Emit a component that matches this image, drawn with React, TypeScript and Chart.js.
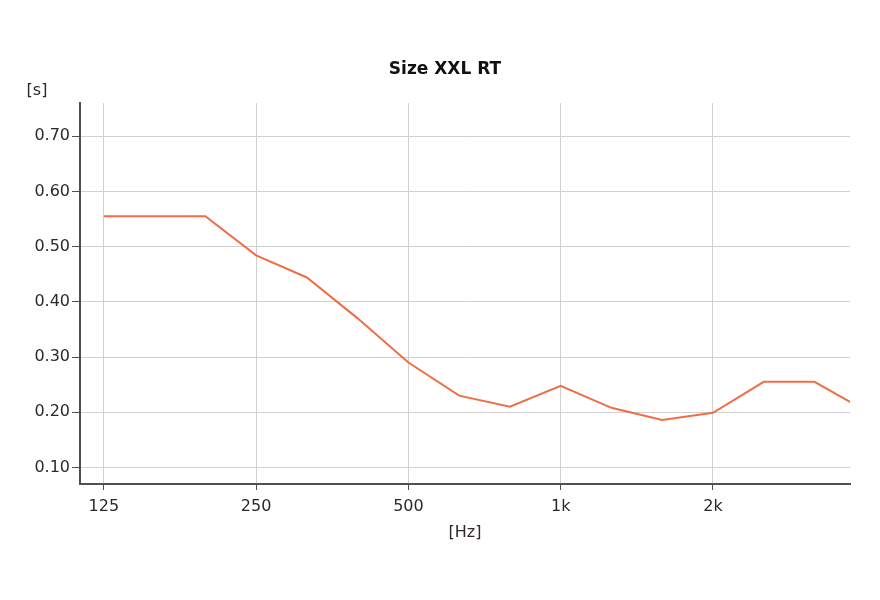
import React, { useEffect, useRef } from "react";
import { Chart, registerables } from "chart.js";

Chart.register(...registerables);

const bands = ["125", "160", "200", "250", "315", "400", "500", "630", "800", "1k", "1.25k", "1.6k", "2k", "2.5k", "3.15k", "4k"];
const rtValues = [0.555, 0.555, 0.555, 0.484, 0.444, 0.37, 0.29, 0.23, 0.21, 0.248, 0.208, 0.186, 0.199, 0.255, 0.255, 0.203];
const xTickLabels = ["125", "250", "500", "1k", "2k"];
const yTicks = [0.1, 0.2, 0.3, 0.4, 0.5, 0.6, 0.7];
const chartTitle = "Size XXL RT";
const yUnit = "[s]";
const xUnit = "[Hz]";

const FONT = "'DejaVu Sans', Tahoma, sans-serif";
const TEXT = "#2e2828";
const AXIS = "#554d4d";
const GRID = "#d0d0d0";
const LINE = "#ef6e47";

export default function App() {
  const ref = useRef<HTMLCanvasElement | null>(null);

  useEffect(() => {
    if (!ref.current) return;
    const tickIdx = xTickLabels.map((l) => bands.indexOf(l));

    const textPlugin = {
      id: "textLabels",
      afterDraw(chart: any) {
        const { ctx, chartArea } = chart;
        ctx.save();
        ctx.textAlign = "center";
        ctx.textBaseline = "middle";
        ctx.font = `16px ${FONT}`;
        ctx.fillStyle = TEXT;
        ctx.fillText(yUnit, chartArea.left - 43, chartArea.top - 12);
        ctx.font = `bold 17px ${FONT}`;
        ctx.fillStyle = "#111";
        ctx.fillText(chartTitle, 445, chartArea.top - 33);
        ctx.restore();
      },
    };

    const chart = new Chart(ref.current, {
      type: "line",
      data: {
        datasets: [
          {
            label: chartTitle,
            data: rtValues.map((v, i) => ({ x: i, y: v })),
            borderColor: LINE,
            borderWidth: 2,
            pointRadius: 0,
            tension: 0,
            fill: false,
          },
        ],
      },
      options: {
        animation: false,
        responsive: false,
        layout: { padding: { left: 0, right: 30, top: 103, bottom: 0 } },
        plugins: {
          legend: { display: false },
          tooltip: { enabled: false },
          title: { display: false },
        },
        scales: {
          x: {
            type: "linear",
            min: -0.47,
            max: 14.7,
            afterBuildTicks: (scale: any) => {
              scale.ticks = tickIdx.map((v) => ({ value: v }));
            },
            afterFit: (scale: any) => {
              scale.height = 116;
            },
            ticks: {
              autoSkip: false,
              maxRotation: 0,
              padding: 7,
              color: TEXT,
              font: { family: FONT, size: 16 },
              callback: (v: any) => {
                const i = tickIdx.indexOf(Number(v));
                return i >= 0 ? xTickLabels[i] : "";
              },
            },
            grid: { color: GRID, lineWidth: 1, tickLength: 6, tickColor: AXIS },
            border: { color: AXIS, width: 2 },
            title: {
              display: true,
              text: xUnit,
              color: TEXT,
              font: { family: FONT, size: 16 },
              padding: { top: 0, bottom: 58 },
            },
          },
          y: {
            type: "linear",
            min: 0.07,
            max: 0.76,
            afterBuildTicks: (scale: any) => {
              scale.ticks = yTicks.map((v) => ({ value: v }));
            },
            afterFit: (scale: any) => {
              scale.width = 80;
            },
            ticks: {
              padding: 2,
              color: TEXT,
              font: { family: FONT, size: 16 },
              callback: (v: any) => Number(v).toFixed(2),
            },
            grid: { color: GRID, lineWidth: 1, tickLength: 8, tickColor: AXIS },
            border: { color: AXIS, width: 2 },
          },
        },
      },
      plugins: [textPlugin],
    });
    return () => chart.destroy();
  }, []);

  return (
    <div style={{ position: "fixed", left: 0, top: 0, width: 880, height: 600, background: "#fff" }}>
      <canvas ref={ref} width={880} height={600} style={{ width: 880, height: 600 }} />
    </div>
  );
}
